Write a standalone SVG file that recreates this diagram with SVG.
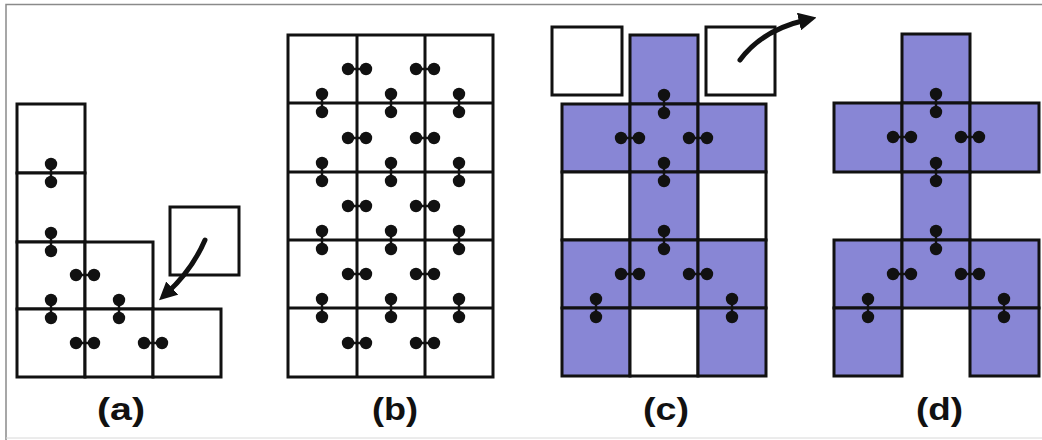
<svg xmlns="http://www.w3.org/2000/svg" xmlns:xlink="http://www.w3.org/1999/xlink" width="1042" height="440" viewBox="0 0 1042 440">
  <style>
    .c { fill: #ffffff; stroke: #111111; stroke-width: 3; }
    .p { fill: #8886d5; stroke: #111111; stroke-width: 3; }
    .lbl { font-family: "Liberation Sans", Arial, sans-serif; font-size: 31px; font-weight: bold; fill: #111111; }
    .arr { fill: none; stroke: #111111; stroke-width: 5; stroke-linecap: round; }
    .dot { fill: #111111; }
  </style>
  <defs>
    <g id="h">
      <line x1="-9" y1="0" x2="9" y2="0" stroke="#111111" stroke-width="2.5"/>
      <circle class="dot" cx="-9" cy="0" r="6.2"/>
      <circle class="dot" cx="9" cy="0" r="6.2"/>
    </g>
    <g id="v">
      <line x1="0" y1="-9" x2="0" y2="9" stroke="#111111" stroke-width="2.5"/>
      <circle class="dot" cx="0" cy="-9" r="6.2"/>
      <circle class="dot" cx="0" cy="9" r="6.2"/>
    </g>
    <marker id="ah" viewBox="0 0 10 10" refX="4" refY="5" markerWidth="3.6" markerHeight="3.6" markerUnits="strokeWidth" orient="auto">
      <path d="M0,0 L10,5 L0,10 Z" fill="#111111"/>
    </marker>
  </defs>

  <rect width="1042" height="440" fill="#ffffff"/>
  <path d="M6,440 L6,4.5 L1042,4.5" fill="none" stroke="#8a8a8a" stroke-width="1.5"/>
  <line x1="6" y1="438" x2="1042" y2="438" stroke="#d8d8d8" stroke-width="1"/>

  <!-- Panel (a) -->
  <g id="panel-a">
    <rect class="c" x="17" y="104" width="68" height="69"/>
    <rect class="c" x="17" y="173" width="68" height="69"/>
    <rect class="c" x="17" y="242" width="68" height="67"/>
    <rect class="c" x="85" y="242" width="68" height="67"/>
    <rect class="c" x="17" y="309" width="68" height="68"/>
    <rect class="c" x="85" y="309" width="68" height="68"/>
    <rect class="c" x="153" y="309" width="68" height="68"/>
    <rect class="c" id="a-free" x="170" y="207" width="69" height="68"/>
    <use href="#v" x="51" y="173"/>
    <use href="#v" x="51" y="242"/>
    <use href="#h" x="85" y="275"/>
    <use href="#v" x="51" y="309"/>
    <use href="#v" x="119" y="309"/>
    <use href="#h" x="85" y="343"/>
    <use href="#h" x="153" y="343"/>
  </g>

  <!-- Panel (b) -->
  <g id="panel-b">
    <rect class="c" x="288" y="35" width="205" height="342"/>
    <line x1="357" y1="35" x2="357" y2="377" stroke="#111111" stroke-width="3"/>
    <line x1="425" y1="35" x2="425" y2="377" stroke="#111111" stroke-width="3"/>
    <line x1="288" y1="103" x2="493" y2="103" stroke="#111111" stroke-width="3"/>
    <line x1="288" y1="172" x2="493" y2="172" stroke="#111111" stroke-width="3"/>
    <line x1="288" y1="240" x2="493" y2="240" stroke="#111111" stroke-width="3"/>
    <line x1="288" y1="308" x2="493" y2="308" stroke="#111111" stroke-width="3"/>
    <use href="#h" x="357" y="69"/><use href="#h" x="425" y="69"/>
    <use href="#h" x="357" y="138"/><use href="#h" x="425" y="138"/>
    <use href="#h" x="357" y="206"/><use href="#h" x="425" y="206"/>
    <use href="#h" x="357" y="274"/><use href="#h" x="425" y="274"/>
    <use href="#h" x="357" y="343"/><use href="#h" x="425" y="343"/>
    <use href="#v" x="322" y="103"/><use href="#v" x="391" y="103"/><use href="#v" x="459" y="103"/>
    <use href="#v" x="322" y="172"/><use href="#v" x="391" y="172"/><use href="#v" x="459" y="172"/>
    <use href="#v" x="322" y="240"/><use href="#v" x="391" y="240"/><use href="#v" x="459" y="240"/>
    <use href="#v" x="322" y="308"/><use href="#v" x="391" y="308"/><use href="#v" x="459" y="308"/>
  </g>

  <!-- Panel (c) -->
  <g id="panel-c">
    <rect class="c" id="c-free-left" x="552" y="27" width="70" height="68"/>
    <rect class="c" id="c-free-right" x="706" y="27" width="69" height="68"/>
    <rect class="p" x="630" y="35" width="68" height="69"/>
    <rect class="p" x="562" y="104" width="68" height="68"/>
    <rect class="p" x="630" y="104" width="68" height="68"/>
    <rect class="p" x="698" y="104" width="68" height="68"/>
    <rect class="c" x="562" y="172" width="68" height="68"/>
    <rect class="p" x="630" y="172" width="68" height="68"/>
    <rect class="c" x="698" y="172" width="68" height="68"/>
    <rect class="p" x="562" y="240" width="68" height="68"/>
    <rect class="p" x="630" y="240" width="68" height="68"/>
    <rect class="p" x="698" y="240" width="68" height="68"/>
    <rect class="p" x="562" y="308" width="68" height="68"/>
    <rect class="c" x="630" y="308" width="68" height="68"/>
    <rect class="p" x="698" y="308" width="68" height="68"/>
    <use href="#v" x="664" y="104"/>
    <use href="#h" x="630" y="138"/><use href="#h" x="698" y="138"/>
    <use href="#v" x="664" y="172"/>
    <use href="#v" x="664" y="240"/>
    <use href="#h" x="630" y="274"/><use href="#h" x="698" y="274"/>
    <use href="#v" x="596" y="308"/><use href="#v" x="732" y="308"/>
  </g>

  <!-- Panel (d) -->
  <g id="panel-d">
    <rect class="p" x="902" y="34" width="68" height="69"/>
    <rect class="p" x="834" y="103" width="68" height="69"/>
    <rect class="p" x="902" y="103" width="68" height="69"/>
    <rect class="p" x="970" y="103" width="69" height="69"/>
    <rect class="p" x="902" y="172" width="68" height="68"/>
    <rect class="p" x="834" y="240" width="68" height="68"/>
    <rect class="p" x="902" y="240" width="68" height="68"/>
    <rect class="p" x="970" y="240" width="69" height="68"/>
    <rect class="p" x="834" y="308" width="68" height="68"/>
    <rect class="p" x="970" y="308" width="69" height="68"/>
    <use href="#v" x="936" y="103"/>
    <use href="#h" x="902" y="137"/><use href="#h" x="970" y="137"/>
    <use href="#v" x="936" y="172"/>
    <use href="#v" x="936" y="240"/>
    <use href="#h" x="902" y="274"/><use href="#h" x="970" y="274"/>
    <use href="#v" x="868" y="308"/><use href="#v" x="1004" y="308"/>
  </g>

  <!-- Connectors -->
  <g id="connectors">
    <path class="arr" d="M205,240 Q192,270 167,293" marker-end="url(#ah)"/>
    <path class="arr" d="M740,60 Q762,30 806,20" marker-end="url(#ah)"/>
  </g>

  <!-- Labels -->
  <g id="labels">
    <text class="lbl" x="97" y="420" textLength="48" lengthAdjust="spacingAndGlyphs">(a)</text>
    <text class="lbl" x="372" y="420" textLength="46" lengthAdjust="spacingAndGlyphs">(b)</text>
    <text class="lbl" x="643" y="420" textLength="46" lengthAdjust="spacingAndGlyphs">(c)</text>
    <text class="lbl" x="916" y="420" textLength="47" lengthAdjust="spacingAndGlyphs">(d)</text>
  </g>
</svg>
